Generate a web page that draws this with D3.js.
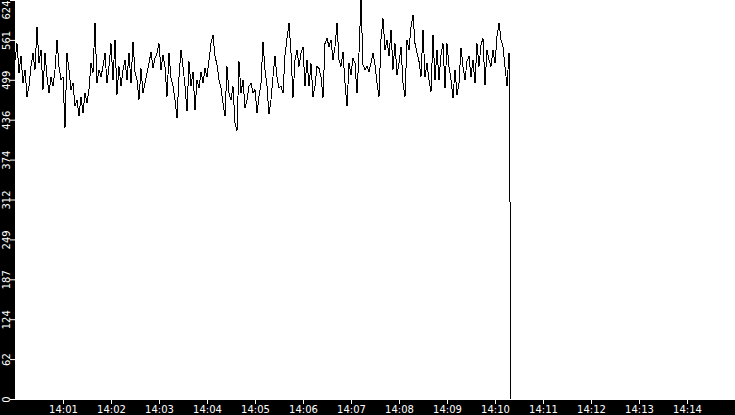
<!DOCTYPE html>
<html>
<head>
<meta charset="utf-8">
<script src="https://cdn.jsdelivr.net/npm/d3@7"></script>
<style>
  html, body { margin: 0; padding: 0; background: #000; }
  svg { display: block; }
  .axis text { fill: #fff; font-family: "DejaVu Sans", sans-serif; font-size: 10px; }
  .axis line { stroke: #fff; }
  .axis .domain { display: none; }
</style>
</head>
<body>
<svg id="chart"></svg>
<script>
// samples start at 14:00:00, one every 2.5 s
const startTime = "14:00:00";
const sampleSeconds = 2.5;
const values = [
  530,556,510,536,494,515,473,489,520,541,515,582,525,546,484,541,504,478,504,489,515,562,520,499,504,
  424,541,515,484,494,458,468,442,473,447,478,463,484,525,510,588,494,515,504,520,541,494,520,556,499,562,
  476,520,489,515,530,499,541,494,559,512,499,468,517,478,494,510,525,543,517,533,541,556,515,538,520,
  473,541,502,489,468,439,504,546,520,489,450,528,489,512,452,499,486,512,494,517,504,530,556,569,536,
  523,499,486,463,442,520,478,468,489,432,419,528,478,499,455,468,489,494,478,484,447,473,494,559,515,
  489,445,468,504,536,504,486,489,478,538,564,588,541,471,530,546,520,541,551,489,530,489,525,473,489,
  520,517,504,471,556,564,551,562,530,551,588,530,520,543,494,458,525,507,533,525,478,541,624,523,515,
  520,512,525,541,523,494,473,562,595,546,562,536,577,515,556,507,525,551,494,473,562,546,582,601,556,
  541,528,504,577,504,525,499,481,569,499,546,499,538,556,486,556,520,499,471,515,476,494,549,520,499,
  528,536,504,530,494,556,520,554,564,491,546,530,520,546,525,567,588,562,551,520,489,541
];
// the feed drops out here
const tailTimes = ["14:10:19", "14:10:20"];
const tailValues = [266, 0];

const xDomain = ["14:00:00", "14:15:00"];
const xTickLabels = ["14:01","14:02","14:03","14:04","14:05","14:06","14:07",
                     "14:08","14:09","14:10","14:11","14:12","14:13","14:14"];
const yMax = 624;
const yTickValues = [0, 62.4, 124.8, 187.2, 249.6, 312, 374.4, 436.8, 499.2, 561.6, 624];
const yTickLabels = ["0","62","124","187","249","312","374","436","499","561","624"];

const containerWidth = 735, containerHeight = 415;
const margin = { top: 0, right: 0, bottom: 15, left: 15 };
const width = containerWidth - margin.left - margin.right;
const height = containerHeight - margin.top - margin.bottom;

const parseTime = d3.timeParse("%H:%M:%S");
const parseTick = d3.timeParse("%H:%M");
const t0 = parseTime(startTime);

const data = values.map((v, i) => ({ time: new Date(t0.getTime() + i * sampleSeconds * 1000), value: v }))
  .concat(tailTimes.map((t, i) => ({ time: parseTime(t), value: tailValues[i] })));

const svg = d3.select("#chart")
  .attr("width", containerWidth)
  .attr("height", containerHeight);

svg.append("rect")
  .attr("width", containerWidth)
  .attr("height", containerHeight)
  .attr("fill", "#000");

const chart = svg.append("g")
  .attr("transform", `translate(${margin.left},${margin.top})`);

chart.append("rect")
  .attr("width", width)
  .attr("height", height)
  .attr("fill", "#fff");

const xScale = d3.scaleTime()
  .domain(xDomain.map(parseTime))
  .range([0, width]);

const yScale = d3.scaleLinear()
  .domain([0, yMax])
  .range([height - 1, 0]);

// data line
const line = d3.line()
  .x(d => xScale(d.time))
  .y(d => yScale(d.value));

chart.append("path")
  .datum(data)
  .attr("fill", "none")
  .attr("stroke", "#000")
  .attr("stroke-width", 1)
  .attr("shape-rendering", "crispEdges")
  .attr("d", line);

// x axis
const xAxis = d3.axisBottom(xScale)
  .tickValues(xTickLabels.map(parseTick))
  .tickFormat(d3.timeFormat("%H:%M"))
  .tickSize(5)
  .tickSizeOuter(0)
  .tickPadding(2);

svg.append("g")
  .attr("class", "axis x-axis")
  .attr("transform", `translate(${margin.left},${height - 1})`)
  .call(xAxis);

// y axis, labels turned on their side
const yAxis = d3.axisLeft(yScale)
  .tickValues(yTickValues)
  .tickFormat((d, i) => yTickLabels[i])
  .tickSize(5)
  .tickSizeOuter(0);

const yAxisGroup = svg.append("g")
  .attr("class", "axis y-axis")
  .attr("transform", `translate(${margin.left},${margin.top})`)
  .call(yAxis);

yAxisGroup.selectAll("text")
  .attr("transform", "rotate(-90)")
  .attr("x", 0)
  .attr("y", -5)
  .attr("dy", 0)
  .attr("text-anchor", (d, i) => i === yTickValues.length - 1 ? "end" : "middle");
</script>
</body>
</html>
